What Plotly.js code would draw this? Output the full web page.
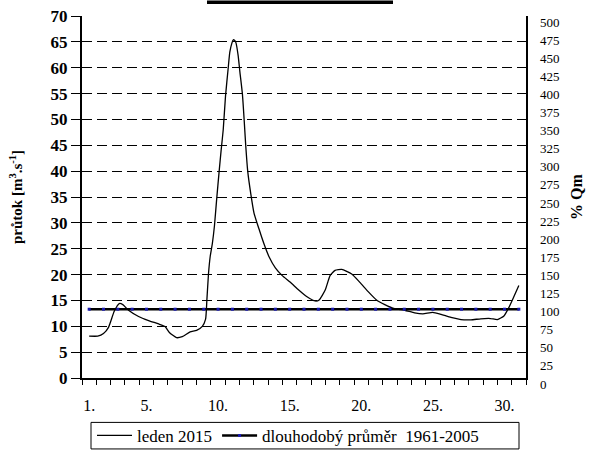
<!DOCTYPE html>
<html>
<head>
<meta charset="utf-8">
<script src="https://cdn.plot.ly/plotly-3.0.1.min.js"></script>
<style>html,body{margin:0;padding:0;background:#fff;}#chart{width:605px;height:466px;}</style>
</head>
<body>
<div id="chart"></div>
<script>
// leden 2015 – průtok (fractional day, m3/s)
const flowDays = [1.0,1.6,2.0,2.35,2.75,3.1,3.35,3.75,4.45,5.15,5.85,6.3,6.6,7.1,7.5,8.05,8.5,8.9,9.13,9.22,9.33,9.45,9.6,9.75,9.9,10.08,10.22,10.36,10.52,10.71,10.82,10.97,11.06,11.15,11.24,11.4,11.52,11.7,11.82,11.93,12.07,12.28,12.51,12.86,13.21,13.55,14.0,14.48,15.05,15.63,16.21,16.78,17.06,17.48,17.82,18.17,18.63,19.33,19.9,20.48,21.06,21.64,22.33,23.03,23.72,24.3,24.99,25.57,26.26,26.96,27.65,28.34,29.03,29.5,29.96,30.3,30.65,31.0];
const flowValues = [8.1,8.1,8.6,9.8,12.9,14.4,14.2,13.1,11.9,11.1,10.45,9.95,8.8,7.8,8.0,8.9,9.2,10.0,11.4,15.1,20.1,23.5,26.0,29.5,34.5,40.1,44.2,48.0,54.5,60,63,64.8,65.4,65.3,64.9,62.4,59.3,54.9,50,45,40,35.7,31.9,28.8,25.9,23.5,21.3,19.8,18.5,17.0,15.7,14.9,15.1,17.0,19.8,20.8,21.0,20.1,18.5,16.7,15.1,14.2,13.4,13.1,12.6,12.4,12.7,12.3,11.7,11.3,11.25,11.45,11.5,11.3,12.0,13.6,15.7,17.9];
// dlouhodobý průměr 1961-2005 (daily)
const meanDays = [1,2,3,4,5,6,7,8,9,10,11,12,13,14,15,16,17,18,19,20,21,22,23,24,25,26,27,28,29,30,31];
const meanValues = [13.3,13.3,13.3,13.3,13.3,13.3,13.3,13.3,13.3,13.3,13.3,13.3,13.3,13.3,13.3,13.3,13.3,13.3,13.3,13.3,13.3,13.3,13.3,13.3,13.3,13.3,13.3,13.3,13.3,13.3,13.3];
const xTickVals = [1,5,10,15,20,25,30];
const xTickText = ['1.','5.','10.','15.','20.','25.','30.'];
const seriesNames = ['leden 2015','dlouhodobý průměr  1961-2005'];

const F = 'Liberation Serif, Times New Roman, serif';
const traces = [
  {x: flowDays, y: flowValues, name: seriesNames[0], type: 'scatter', mode: 'lines',
   line: {color: '#000', width: 1.3, shape: 'spline', smoothing: 0.5}},
  {x: meanDays, y: meanValues, name: seriesNames[1], type: 'scatter', mode: 'lines+markers',
   line: {color: '#000', width: 2.5}, marker: {color: '#1a1ab0', size: 3, symbol: 'square'}},
  {x: [1], y: [0], yaxis: 'y2', showlegend: false, mode: 'markers', marker: {opacity: 0}, hoverinfo: 'skip'}
];
const W = 605, H = 466, L = 82, R = 79, T = 16, B = 75;
const pw = W - L - R, ph = H - T - B;
const px = v => (v - L) / pw;
const py = v => (H - B - v) / ph;
const layout = {
  width: W, height: H,
  margin: {l: L, r: R, t: T, b: B},
  paper_bgcolor: '#fff', plot_bgcolor: '#fff',
  font: {family: F, color: '#000', size: 14},
  showlegend: true,
  legend: {orientation: 'h', x: px(92), xanchor: 'left', y: py(451), yanchor: 'middle',
    itemwidth: 35,
    font: {family: F, size: 17, color: '#000'}, borderwidth: 0, bgcolor: 'rgba(0,0,0,0)'},
  xaxis: {range: [0.5, 31.5], tickmode: 'array', tickvals: xTickVals, ticktext: xTickText,
    ticks: '', showgrid: false, zeroline: false, showline: true, linecolor: '#000', linewidth: 1.5,
    ticklabelstandoff: 12,
    tickfont: {family: F, size: 16, color: '#000'},
    minor: {ticks: 'outside', tick0: 0.5, dtick: 1, ticklen: 5, tickcolor: '#000', tickwidth: 1, showgrid: false}},
  yaxis: {range: [0, 70], tick0: 0, dtick: 5, ticks: 'outside', ticklen: 9, tickcolor: '#000',
    showline: true, linecolor: '#000', linewidth: 2, zeroline: false,
    showgrid: true, gridcolor: '#000', gridwidth: 1, griddash: '10px,5px',
    tickfont: {family: F, size: 17, color: '#000', weight: 'bold'},
    title: {text: 'průtok [m<sup>3</sup>.s<sup>-1</sup>]', font: {family: F, size: 15, weight: 'bold', color: '#000'}, standoff: 24}},
  yaxis2: {overlaying: 'y', side: 'right', range: [0, 500], tick0: 0, dtick: 25, ticks: '',
    showline: true, linecolor: '#000', linewidth: 1.5, showgrid: false, zeroline: false,
    ticklabelshift: 6, ticklabelstandoff: 10,
    tickfont: {family: F, size: 13, color: '#000'},
    title: {text: '% Qm', font: {family: F, size: 16, weight: 'bold', color: '#000'}, standoff: 12}},
  shapes: [
    {type: 'rect', xref: 'paper', yref: 'paper', x0: px(207), x1: px(393), y0: py(3.5), y1: py(0),
     fillcolor: '#000', line: {width: 0}},
    {type: 'rect', xref: 'paper', yref: 'paper', x0: px(91), x1: px(519), y0: py(464.5), y1: py(437),
     line: {color: '#000', width: 1}, fillcolor: 'rgba(0,0,0,0)'}
  ]
};
Plotly.newPlot('chart', traces, layout, {staticPlot: true, displayModeBar: false});
</script>
</body>
</html>
